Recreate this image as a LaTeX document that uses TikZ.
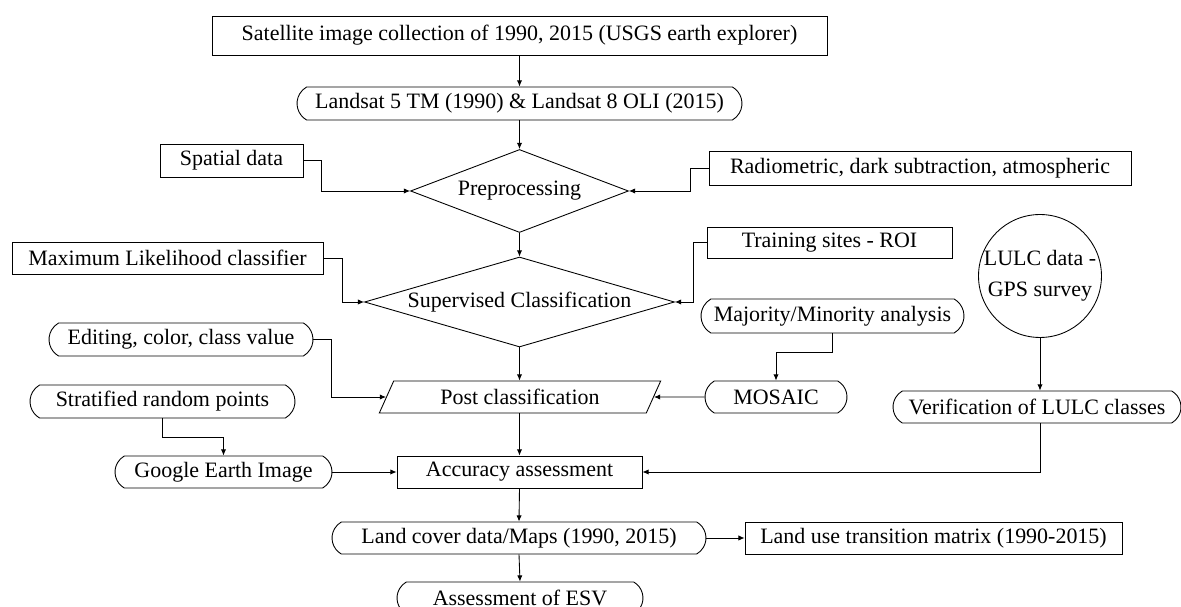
\documentclass[tikz,border=0pt]{standalone}
\usepackage{fontspec}
\setmainfont{Liberation Serif}
\usetikzlibrary{shapes.geometric,shapes.misc,arrows.meta}

\begin{document}
\begin{tikzpicture}[x=0.02cm,y=-0.02cm,
  font=\fontsize{12.5}{15}\selectfont,
  line width=0.5pt,
  box/.style={draw,rectangle,inner sep=0pt,minimum height=0.64cm},
  pill/.style={draw,rounded rectangle,rounded rectangle arc length=120,inner sep=0pt,minimum height=0.64cm},
  decision/.style={draw,diamond,inner sep=0pt},
  io/.style={draw,trapezium,trapezium left angle=60,trapezium right angle=120,trapezium stretches=true,inner sep=0pt},
  arr/.style={-{Latex[length=3.5pt,width=3pt]}}]
\useasboundingbox (0,0) rectangle (1181,607);

% main column
\node[box,minimum width=12.3cm,minimum height=0.78cm] (sat) at (519.5,35.5) {Satellite image collection of 1990, 2015 (USGS earth explorer)};
\node[pill,minimum width=8.9cm,minimum height=0.66cm] (landsat) at (519.5,103.5) {Landsat 5 TM (1990) \& Landsat 8 OLI (2015)};
\node[decision,minimum width=4.36cm,minimum height=1.66cm] (prep) at (519.5,191) {\makebox[0pt]{Preprocessing}};
\node[decision,minimum width=6.2cm,minimum height=1.8cm] (superv) at (519.5,302) {\makebox[0pt]{Supervised Classification}};
\node[io,minimum width=5.64cm,minimum height=0.64cm] (post) at (520,397) {Post classification};
\node[box,minimum width=4.9cm] (accur) at (519.5,472) {Accuracy assessment};
\node[pill,minimum width=7.48cm] (landcov) at (519,538) {Land cover data/Maps (1990, 2015)};
\node[pill,minimum width=4.92cm] (esv) at (520,598) {Assessment of ESV};

% inputs
\node[box,minimum width=2.86cm,minimum height=0.66cm] (spatial) at (231.5,160.5) {Spatial data};
\node[box,minimum width=8.44cm,minimum height=0.68cm] (radio) at (920,168) {Radiometric, dark subtraction, atmospheric};
\node[box,minimum width=6.22cm] (maxlik) at (167.5,258) {Maximum Likelihood classifier};
\node[box,minimum width=4.9cm,minimum height=0.62cm] (training) at (829.5,242.5) {Training sites - ROI};
\node[pill,minimum width=5.28cm,minimum height=0.66cm] (editing) at (181,339.5) {Editing, color, class value};
\node[pill,minimum width=5.26cm,minimum height=0.68cm] (majority) at (832.5,316) {Majority/Minority analysis};
\node[pill,minimum width=2.84cm] (mosaic) at (776,397) {MOSAIC};
\node[draw,circle,inner sep=0pt,minimum size=2.46cm,align=center,font=\fontsize{12.5}{17.5}\selectfont] (lulc) at (1040,276) {LULC data -\\GPS survey};
\node[pill,minimum width=5.76cm] (verif) at (1037,407) {Verification of LULC classes};
\node[pill,minimum width=5.3cm,minimum height=0.66cm] (strat) at (162.5,401.5) {Stratified random points};
\node[pill,minimum width=4.34cm] (google) at (223.5,472) {Google Earth Image};
\node[box,minimum width=7.54cm] (transit) at (933.5,538) {Land use transition matrix (1990-2015)};

% connectors
\draw[arr] (sat.south) -- (landsat.north);
\draw[arr] (landsat.south) -- (prep.north);
\draw[arr] (prep.south) -- (superv.north);
\draw[arr] (superv.south) -- (superv.south |- post.north);
\draw[arr] (accur.north |- post.south) -- (accur.north);
\draw[arr] (accur.south) -- (landcov.north);
\draw[arr] (landcov.south) -- (esv.north);
\draw[arr] (spatial.east) -- ++(18,0) |- (prep.west);
\draw[arr] (radio.west) -- ++(-18,0) |- (prep.east);
\draw[arr] (maxlik.east) -- ++(19,0) |- (superv.west);
\draw[arr] (training.west) -- ++(-13,0) |- (superv.east);
\draw[arr] (editing.east) -- ++(18,0) |- (post.west);
\draw[arr] (majority.south) -- ++(0,19) -| (mosaic.north);
\draw[arr] (mosaic.west) -- (post.east);
\draw[arr] (lulc.south) -- (lulc.south |- verif.north);
\draw[arr] (verif.south -| lulc.south) |- (accur.east);
\draw[arr] (strat.south) -- ++(0,19) -| (google.north);
\draw[arr] (google.east) -- (accur.west);
\draw[arr] (landcov.east) -- (transit.west);
\end{tikzpicture}
\end{document}
